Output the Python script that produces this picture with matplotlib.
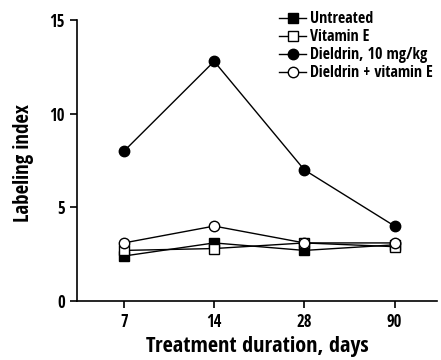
import matplotlib
matplotlib.use("Agg")
import matplotlib.pyplot as plt

days = ["7", "14", "28", "90"]
untreated = [2.4, 3.1, 2.7, 3.0]
vitamin_e = [2.7, 2.8, 3.1, 2.9]
dieldrin = [8.0, 12.8, 7.0, 4.0]
dieldrin_vite = [3.1, 4.0, 3.1, 3.1]
yticks = [0, 5, 10, 15]

plt.rcParams["font.family"] = ["Open Sans Condensed", "DejaVu Sans"]
plt.rcParams["font.weight"] = "bold"

fig = plt.figure(figsize=(4.41, 3.6), dpi=100)
ax = fig.add_axes([0.1746, 0.164, 0.8164, 0.78])
x = list(range(len(days)))
ms = 7.5
kw = dict(color="black", lw=1.0, markersize=ms, markeredgewidth=1.0)
ax.plot(x, untreated, marker="s", markerfacecolor="black", label="Untreated", **kw)
ax.plot(x, vitamin_e, marker="s", markerfacecolor="white", label="Vitamin E", **kw)
ax.plot(x, dieldrin, marker="o", markerfacecolor="black", label="Dieldrin, 10 mg/kg", **kw)
ax.plot(x, dieldrin_vite, marker="o", markerfacecolor="white", label="Dieldrin + vitamin E", **kw)

ax.set_xlim(-0.52, 3.47)
ax.set_ylim(0, 15)
ax.set_xticks(x)
ax.set_xticklabels(days)
ax.set_yticks(yticks)
ax.spines["top"].set_visible(False)
ax.spines["right"].set_visible(False)
ax.spines["left"].set_linewidth(1.2)
ax.spines["bottom"].set_linewidth(1.2)
ax.tick_params(axis="both", labelsize=12, width=1.2, length=5)
ax.set_ylabel("Labeling index", fontsize=15)
ax.set_xlabel("Treatment duration, days", fontsize=16, labelpad=4)
ax.yaxis.set_label_coords(-0.12, 0.49)

leg = ax.legend(loc="upper right", bbox_to_anchor=(1.015, 1.065), frameon=False,
                fontsize=11.5, handlelength=1.7, handletextpad=0.25,
                labelspacing=0.12, borderpad=0.1, markerscale=1.0)
fig.savefig("out.png", dpi=100)
